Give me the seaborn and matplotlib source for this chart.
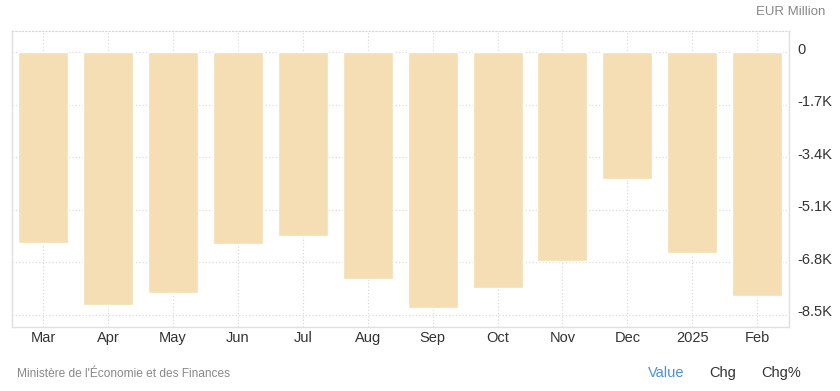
import matplotlib
matplotlib.use("Agg")
import matplotlib.pyplot as plt
import matplotlib.transforms as mtransforms
import seaborn as sns
import pandas as pd

months = ["Mar", "Apr", "May", "Jun", "Jul", "Aug", "Sep", "Oct", "Nov", "Dec", "2025", "Feb"]
values = [-6170, -8170, -7780, -6210, -5940, -7340, -8260, -7620, -6750, -4100, -6490, -7880]
ytick_vals = [0, -1700, -3400, -5100, -6800, -8500]
ytick_labels = ["0", "-1.7K", "-3.4K", "-5.1K", "-6.8K", "-8.5K"]

sns.set_theme(style="white")
plt.rcParams["font.family"] = ["Liberation Sans", "DejaVu Sans"]

df = pd.DataFrame({"month": months, "value": values})

fig = plt.figure(figsize=(8.4, 3.91), dpi=100)
ax = fig.add_axes([12/840, 1-327/391, (789-12)/840, (327-31)/391])

sns.barplot(data=df, x="month", y="value", order=months, color="#F5DEB3",
            saturation=1, width=0.77, ax=ax, zorder=2)

ax.set_xlim(-0.48, 11.49)
ax.set_ylim(-8888, 680)
ax.set_xlabel("")
ax.set_ylabel("")

ax.yaxis.tick_right()
ax.set_yticks(ytick_vals)
ax.set_yticklabels(ytick_labels)
ax.tick_params(axis="y", length=0, pad=6, labelsize=10.5, labelcolor="#333333")
ax.tick_params(axis="x", length=0, pad=3, labelsize=10.5, labelcolor="#333333")

offset = mtransforms.ScaledTranslation(0, 4/100, fig.dpi_scale_trans)
for lbl in ax.get_yticklabels():
    lbl.set_transform(lbl.get_transform() + offset)

ax.grid(True, axis="both", linestyle=(0, (1, 2)), color="#d5d5d5", linewidth=0.8, zorder=0)
ax.set_axisbelow(True)

for s in ["left", "right", "bottom"]:
    ax.spines[s].set_visible(True)
    ax.spines[s].set_color("#e0e0e0")
    ax.spines[s].set_linewidth(1.0)
ax.spines["top"].set_visible(True)
ax.spines["top"].set_color("#d5d5d5")
ax.spines["top"].set_linestyle((0, (1, 2)))
ax.spines["top"].set_linewidth(0.8)

fig.text(825/840, 1-12/391, "EUR Million", ha="right", va="center", fontsize=9.5, color="#888888")
fig.text(17/840, 1-374/391, "Ministère de l'Économie et des Finances", ha="left", va="center",
         fontsize=8.6, color="#888888")
fig.text(666/840, 1-373/391, "Value", ha="center", va="center", fontsize=10.5, color="#4a90e2")
fig.text(723/840, 1-373/391, "Chg", ha="center", va="center", fontsize=10.5, color="#333333")
fig.text(781/840, 1-373/391, "Chg%", ha="center", va="center", fontsize=10.5, color="#333333")

fig.savefig("out.png", dpi=100)
